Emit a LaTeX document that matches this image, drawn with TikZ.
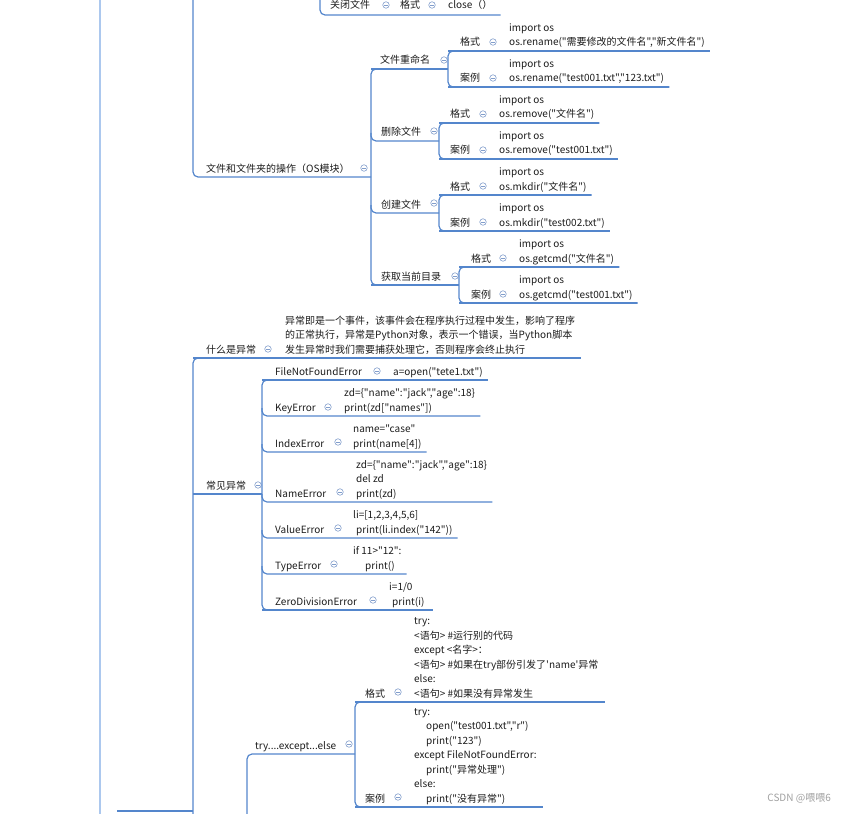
\documentclass[tikz,border=0pt]{standalone}
\usepackage{fontspec}
\newfontfamily\cnfont{Noto Sans CJK SC}
\definecolor{linec}{RGB}{84,134,204}
\definecolor{railc}{RGB}{172,200,238}
\definecolor{foldc}{RGB}{130,158,204}
\definecolor{inkc}{RGB}{28,28,28}
\definecolor{markc}{RGB}{160,160,160}
\tikzset{
  topic/.style={anchor=base west, inner sep=0pt, text=inkc},
  codetxt/.style={anchor=base west, inner sep=0pt, align=left, text=inkc},
  fold/.style={circle, draw=foldc, line width=0.6pt, minimum size=6.5pt, inner sep=0pt,
    path picture={\draw[foldc, line width=0.6pt]
      ([xshift=-1.8pt]path picture bounding box.center) -- ([xshift=1.8pt]path picture bounding box.center);}},
  link/.style={draw=linec, line width=1.2pt, rounded corners=5pt},
  rail/.style={draw=railc, line width=2.2pt}
}
\begin{document}
\begin{tikzpicture}[x=1pt, y=-1pt, font=\cnfont\fontsize{10}{14.5}\selectfont]
\useasboundingbox (0,0) rectangle (845,813);
\clip (0,0) rectangle (845,813);

% left rail
\draw[rail] (100,-20) -- (100,830);

% --- close file (top, cut off) ---
\coordinate (gbtop) at (320,-20);
\coordinate (gb) at (320,15);
\node[topic] (gbt) at (330,9) {关闭文件};
\node[fold] (gbf) at (386,5) {};
\node[topic] (gbgs) at (400,9) {格式};
\node[fold] (gbgsf) at (432,5) {};
\node[topic] (gbdm) at (448,9) {close（）};
\draw[link] (gbtop) -- (gb) -- (gb -| gbdm.east) -- ++(8,0);

% --- files and folders (OS module) ---
\coordinate (wjtop) at (193,-20);
\coordinate (wj) at (193,177);
\node[topic] (wjt) at (206,172) {文件和文件夹的操作（OS模块）};
\node[fold] (wjf) at (364,168) {};

% spine of the four operations
\coordinate (rn) at (371,69);
\coordinate (sc) at (371,141);
\coordinate (cj) at (371,213);
\coordinate (hq) at (371,285);
\draw[link] (wjtop) -- (wj) -- (wj -| rn);
\draw[link] (rn) ++(8,0) -- (rn) -- (hq) -- ++(8,0);

% rename
\node[topic] (rnt) at (380,64) {文件重命名};
\node[fold] (rnf) at (444,60) {};
\coordinate (rnA) at (448,51);
\coordinate (rnB) at (448,87);
\draw[link] (rn) -- (rn -| rnA);
\draw[link] (rnA) ++(8,0) -- (rnA) -- (rnB) -- ++(8,0);
\node[topic] (rnat) at (460,46) {格式};
\node[fold] (rnaf) at (493,42) {};
\node[codetxt] (rnac) at (509,46) {import os\\os.rename("需要修改的文件名","新文件名")};
\node[topic] (rnbt) at (460,82) {案例};
\node[fold] (rnbf) at (493,78) {};
\node[codetxt] (rnbc) at (509,82) {import os\\os.rename("test001.txt","123.txt")};
\draw[link] (rnA) -- (rnA -| rnac.east) -- ++(4,0);
\draw[link] (rnB) -- (rnB -| rnbc.east) -- ++(4,0);

% remove
\node[topic] (sct) at (381,136) {删除文件};
\node[fold] (scf) at (434,131) {};
\coordinate (scA) at (439,123);
\coordinate (scB) at (439,159);
\draw[link] (sc) ++(0,-8) -- (sc) -- (sc -| scA);
\draw[link] (scA) ++(8,0) -- (scA) -- (scB) -- ++(8,0);
\node[topic] (scat) at (450,118) {格式};
\node[fold] (scaf) at (483,114) {};
\node[codetxt] (scac) at (499,118) {import os\\os.remove("文件名")};
\node[topic] (scbt) at (450,154) {案例};
\node[fold] (scbf) at (483,150) {};
\node[codetxt] (scbc) at (499,154) {import os\\os.remove("test001.txt")};
\draw[link] (scA) -- (scA -| scac.east) -- ++(4,0);
\draw[link] (scB) -- (scB -| scbc.east) -- ++(4,0);

% mkdir
\node[topic] (cjt) at (381,208) {创建文件};
\node[fold] (cjf) at (434,203) {};
\coordinate (cjA) at (439,195);
\coordinate (cjB) at (439,231);
\draw[link] (cj) ++(0,-8) -- (cj) -- (cj -| cjA);
\draw[link] (cjA) ++(8,0) -- (cjA) -- (cjB) -- ++(8,0);
\node[topic] (cjat) at (450,190) {格式};
\node[fold] (cjaf) at (483,186) {};
\node[codetxt] (cjac) at (499,190) {import os\\os.mkdir("文件名")};
\node[topic] (cjbt) at (450,226) {案例};
\node[fold] (cjbf) at (483,222) {};
\node[codetxt] (cjbc) at (499,226) {import os\\os.mkdir("test002.txt")};
\draw[link] (cjA) -- (cjA -| cjac.east) -- ++(4,0);
\draw[link] (cjB) -- (cjB -| cjbc.east) -- ++(4,0);

% current directory
\node[topic] (hqt) at (381,280) {获取当前目录};
\node[fold] (hqf) at (455,276) {};
\coordinate (hqA) at (459,267);
\coordinate (hqB) at (459,303);
\draw[link] (hq) -- (hq -| hqA);
\draw[link] (hqA) ++(8,0) -- (hqA) -- (hqB) -- ++(8,0);
\node[topic] (hqat) at (471,262) {格式};
\node[fold] (hqaf) at (503,258) {};
\node[codetxt] (hqac) at (519,262) {import os\\os.getcmd("文件名")};
\node[topic] (hqbt) at (471,298) {案例};
\node[fold] (hqbf) at (503,294) {};
\node[codetxt] (hqbc) at (519,298) {import os\\os.getcmd("test001.txt")};
\draw[link] (hqA) -- (hqA -| hqac.east) -- ++(4,0);
\draw[link] (hqB) -- (hqB -| hqbc.east) -- ++(4,0);

% --- exceptions ---
\coordinate (sm) at (193,358);
\coordinate (cy) at (193,494);
\coordinate (ycbot) at (193,830);
\coordinate (yc) at (117,811);
\draw[link] (sm) ++(8,0) -- (sm) -- (ycbot);
\draw[link] (yc) -- (yc -| sm);

% what is an exception
\node[topic] (smt) at (206,353) {什么是异常};
\node[fold] (smf) at (268,349) {};
\node[codetxt] (smc) at (285,353) {异常即是一个事件，该事件会在程序执行过程中发生，影响了程序\\的正常执行，异常是Python对象，表示一个错误，当Python脚本\\发生异常时我们需要捕获处理它，否则程序会终止执行};
\draw[link] (sm) -- (sm -| smc.east) -- ++(6,0);

% common exceptions
\node[topic] (cyt) at (206,489) {常见异常};
\node[fold] (cyf) at (258,485) {};
\coordinate (cA) at (262,380);
\coordinate (cB) at (262,416);
\coordinate (cC) at (262,452);
\coordinate (cD) at (262,502);
\coordinate (cE) at (262,538);
\coordinate (cF) at (262,574);
\coordinate (cG) at (262,610);
\draw[link] (cy) -- (cy -| cA);
\draw[link] (cA) ++(8,0) -- (cA) -- (cG) -- ++(8,0);

\node[topic] (cAt) at (275,375) {FileNotFoundError};
\node[fold] (cAf) at (377,371) {};
\node[codetxt] (cAc) at (393,375) {a=open("tete1.txt")};
\draw[link] (cA) -- (cA -| cAc.east) -- ++(4,0);

\node[topic] (cBt) at (275,411) {KeyError};
\node[fold] (cBf) at (328,407) {};
\node[codetxt] (cBc) at (344,411) {zd=\{"name":"jack","age":18\}\\print(zd["names"])};
\draw[link] (cB) ++(0,-8) -- (cB) -- (cB -| cBc.east) -- ++(4,0);

\node[topic] (cCt) at (275,447) {IndexError};
\node[fold] (cCf) at (338,442) {};
\node[codetxt] (cCc) at (353,447) {name="case"\\print(name[4])};
\draw[link] (cC) ++(0,-8) -- (cC) -- (cC -| cCc.east) -- ++(4,0);

\node[topic] (cDt) at (275,497) {NameError};
\node[fold] (cDf) at (340,492) {};
\node[codetxt] (cDc) at (356,497) {zd=\{"name":"jack","age":18\}\\del zd\\print(zd)};
\draw[link] (cD) ++(0,-8) -- (cD) -- (cD -| cDc.east) -- ++(4,0);

\node[topic] (cEt) at (275,533) {ValueError};
\node[fold] (cEf) at (338,528) {};
\node[codetxt] (cEc) at (353,533) {li=[1,2,3,4,5,6]\\\hspace*{3pt}print(li.index("142"))};
\draw[link] (cE) ++(0,-8) -- (cE) -- (cE -| cEc.east) -- ++(4,0);

\node[topic] (cFt) at (275,569) {TypeError};
\node[fold] (cFf) at (334,564) {};
\node[codetxt] (cFc) at (353,569) {if 11>"12":\\\hspace*{12pt}print()};
\draw[link] (cF) ++(0,-8) -- (cF) -- (cF -| cFc.east) -- ++(4,0);

\node[topic] (cGt) at (275,605) {ZeroDivisionError};
\node[fold] (cGf) at (373,600) {};
\node[codetxt] (cGc) at (389,605) {i=1/0\\\hspace*{3pt}print(i)};
\draw[link] (cG) -- (cG -| cGc.east) -- ++(8,0);

% try ... except ... else
\coordinate (ty) at (247,754);
\coordinate (tybot) at (247,830);
\coordinate (tA) at (355,702);
\coordinate (tB) at (355,807);
\node[topic] (tyt) at (255,749) {try....except...else};
\node[fold] (tyf) at (349,744) {};
\draw[link] (tybot) -- (ty) -- (ty -| tA);
\draw[link] (tA) ++(8,0) -- (tA) -- (tB) -- ++(8,0);

\node[topic] (tAt) at (365,697) {格式};
\node[fold] (tAf) at (398,692) {};
\node[codetxt] (tAc) at (414,697) {try:\\<语句> \#运行别的代码\\except <名字>：\\<语句> \#如果在try部份引发了'name'异常\\else:\\<语句> \#如果没有异常发生};
\draw[link] (tA) -- (tA -| tAc.east) -- ++(6,0);

\node[topic] (tBt) at (365,802) {案例};
\node[fold] (tBf) at (398,797) {};
\node[codetxt] (tBc) at (414,802) {try:\\\hspace*{12pt}open("test001.txt","r")\\\hspace*{12pt}print("123")\\except FileNotFoundError:\\\hspace*{12pt}print("异常处理")\\else:\\\hspace*{12pt}print("没有异常")};
\draw[link] (tB) -- (tB -| tBc.east) -- ++(6,0);

% watermark
\node[anchor=base east, inner sep=0pt, text=markc] (wm) at (831,801) {CSDN @喂喂6};

\end{tikzpicture}
\end{document}
